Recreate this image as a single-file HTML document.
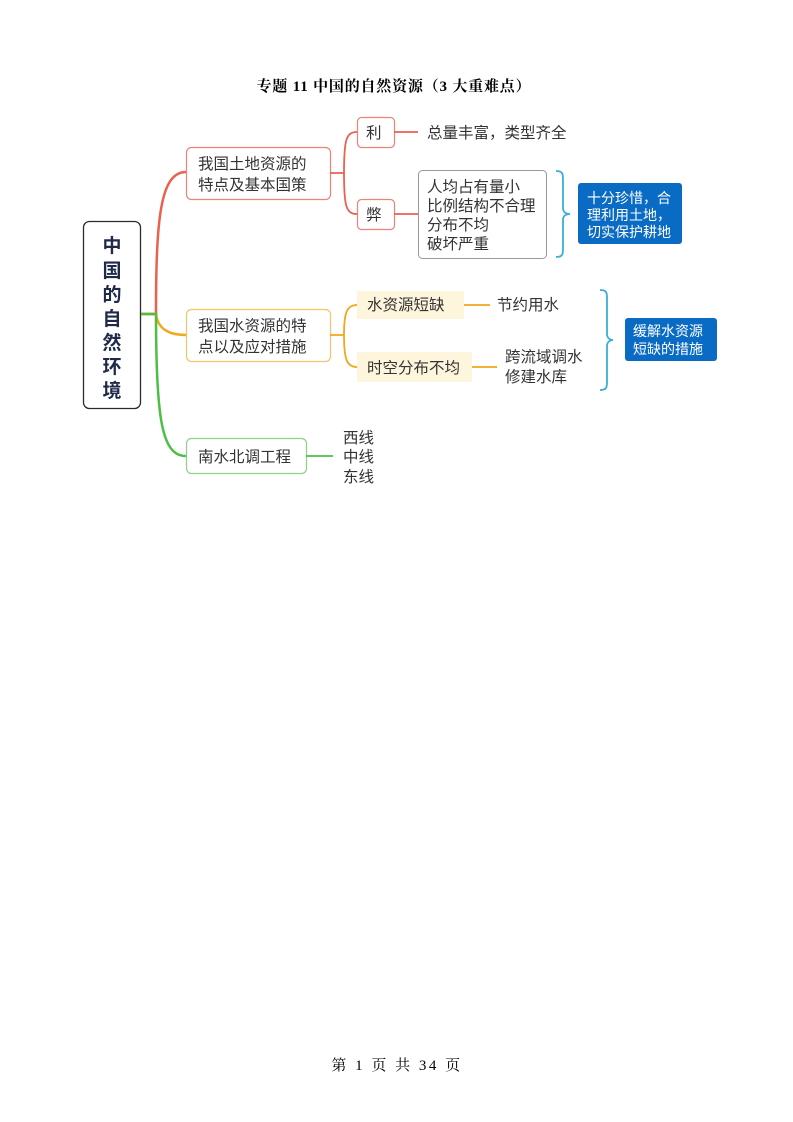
<!DOCTYPE html>
<html><head><meta charset="utf-8"><style>
html,body{margin:0;padding:0;background:#fff;width:793px;height:1122px;overflow:hidden}
svg{display:block}
.t{font-family:"Liberation Sans","Noto Sans CJK SC",sans-serif;fill:#333;font-size:15.5px}
.w{font-family:"Liberation Sans","Noto Sans CJK SC",sans-serif;fill:#fff;font-size:14px}
.s{font-family:"Liberation Serif","Noto Serif CJK SC",serif;fill:#000;font-size:15px}
</style></head><body>
<svg width="793" height="1122" viewBox="0 0 793 1122">
<text class="s" x="394" y="91" text-anchor="middle" font-weight="bold" letter-spacing="0.8">专题 11  中国的自然资源（3 大重难点）</text>
<rect x="83.5" y="221.5" width="57" height="187" rx="6" fill="#fff" stroke="#2b2b2b" stroke-width="1.3"/>
<g font-family="Liberation Sans,Noto Sans CJK SC,sans-serif" font-size="19" font-weight="bold" fill="#1f2a4a" text-anchor="middle">
<text x="112" y="252">中</text><text x="112" y="277">国</text><text x="112" y="301">的</text><text x="112" y="325">自</text><text x="112" y="349">然</text><text x="112" y="373">环</text><text x="112" y="397">境</text>
</g>
<path d="M141 314 H156 C156 220 160 172 186 172" fill="none" stroke="#e8624f" stroke-width="2.5"/>
<path d="M141 314 H156 C158 330 170 335 186 335" fill="none" stroke="#f0a81c" stroke-width="2.5"/>
<path d="M141 314 H156 C156 420 162 456 186 456" fill="none" stroke="#4dbf45" stroke-width="2.5"/>
<rect x="186.5" y="147.5" width="144" height="52" rx="5" fill="#fff" stroke="#e8847a" stroke-width="1.2"/>
<text class="t" x="198" y="169">我国土地资源的</text><text class="t" x="198" y="190">特点及基本国策</text>
<path d="M330 173 H344 M344 173 C344 140 346 132 357 132 M344 173 C344 206 346 214 357 214" fill="none" stroke="#e8624f" stroke-width="1.8"/>
<rect x="357.5" y="117.5" width="37" height="30" rx="4" fill="#fff" stroke="#e8847a" stroke-width="1.2"/>
<text class="t" x="366" y="138">利</text>
<rect x="357.5" y="199.5" width="37" height="30" rx="4" fill="#fff" stroke="#e8847a" stroke-width="1.2"/>
<text class="t" x="366" y="220">弊</text>
<path d="M394 132 H418 M394 214 H418" stroke="#e8624f" stroke-width="1.8"/>
<text class="t" x="427" y="138">总量丰富，类型齐全</text>
<rect x="418.5" y="170.5" width="128" height="88" rx="4" fill="#fff" stroke="#999" stroke-width="1"/>
<text class="t" x="427" y="192">人均占有量小</text><text class="t" x="427" y="211">比例结构不合理</text>
<text class="t" x="427" y="230">分布不均</text><text class="t" x="427" y="249">破坏严重</text>
<path d="M556 171 C563 171 563 174 563 180 V208 C563 212 566 214 570 214 C566 214 563 216 563 220 V248 C563 254 563 257 556 257" fill="none" stroke="#3aaed8" stroke-width="1.8"/>
<rect x="578" y="183" width="104" height="61" rx="3" fill="#0a6bc4"/>
<text class="w" x="587" y="203">十分珍惜，合</text><text class="w" x="587" y="220">理利用土地，</text><text class="w" x="587" y="237">切实保护耕地</text>
<rect x="186.5" y="309.5" width="144" height="52" rx="5" fill="#fff" stroke="#f3c46a" stroke-width="1.2"/>
<text class="t" x="198" y="331">我国水资源的特</text><text class="t" x="198" y="352">点以及应对措施</text>
<path d="M330 335 H344 M344 335 C344 312 347 305 357 305 M344 335 C344 360 347 367 357 367" fill="none" stroke="#f0a81c" stroke-width="1.8"/>
<rect x="357" y="291" width="107" height="28" fill="#fdf5dc"/>
<text class="t" x="367" y="310">水资源短缺</text>
<rect x="357" y="352" width="115" height="30" fill="#fdf5dc"/>
<text class="t" x="367" y="373">时空分布不均</text>
<path d="M464 305 H490 M472 367 H497" stroke="#f0a81c" stroke-width="1.8"/>
<text class="t" x="497" y="310">节约用水</text>
<text class="t" x="505" y="362">跨流域调水</text><text class="t" x="505" y="382">修建水库</text>
<path d="M600 290 C607 290 607 293 607 299 V334 C607 338 610 340 613 340 C610 340 607 342 607 346 V381 C607 387 607 390 600 390" fill="none" stroke="#3aaed8" stroke-width="1.8"/>
<rect x="625" y="318" width="92" height="43" rx="3" fill="#0a6bc4"/>
<text class="w" x="633" y="336">缓解水资源</text><text class="w" x="633" y="354">短缺的措施</text>
<rect x="186.5" y="438.5" width="120" height="35" rx="5" fill="#fff" stroke="#8fd18a" stroke-width="1.2"/>
<text class="t" x="198" y="462">南水北调工程</text>
<path d="M306 456 H333" stroke="#4dbf45" stroke-width="1.8"/>
<text class="t" x="343" y="443">西线</text><text class="t" x="343" y="462">中线</text><text class="t" x="343" y="482">东线</text>
<text class="s" x="397" y="1070" text-anchor="middle" letter-spacing="2.5" xml:space="preserve">第 1 页 共 34 页</text>
</svg>
</body></html>
